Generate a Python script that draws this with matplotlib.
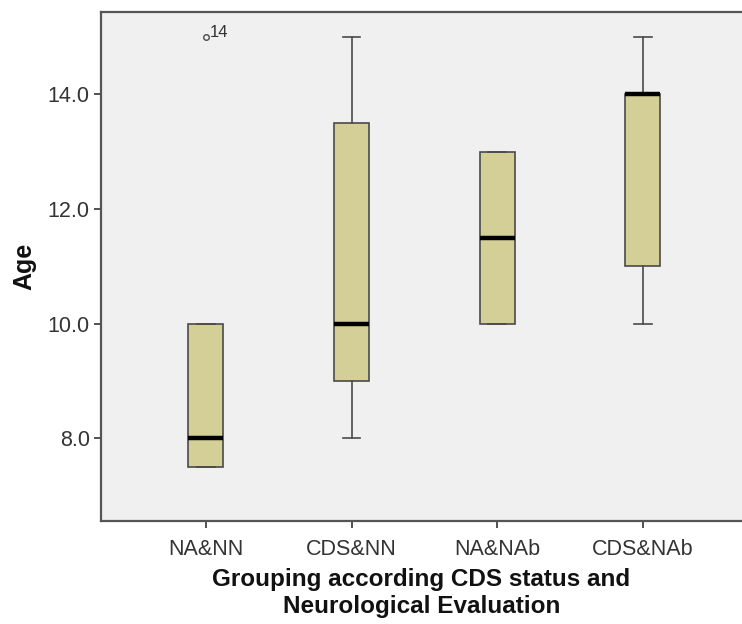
import matplotlib.pyplot as plt

plt.rcParams['font.family'] = ['Liberation Sans', 'DejaVu Sans']

# values
groups = ['NA&NN', 'CDS&NN', 'NA&NAb', 'CDS&NAb']
whislo = [7.5, 8.0, 10.0, 10.0]
q1 = [7.5, 9.0, 10.0, 11.0]
med = [8.0, 10.0, 11.5, 14.0]
q3 = [10.0, 13.5, 13.0, 14.0]
whishi = [10.0, 15.0, 13.0, 15.0]
fliers = [[15.0], [], [], []]
flier_ids = [['14'], [], [], []]

stats = []
for i in range(len(groups)):
    stats.append({'label': groups[i], 'whislo': whislo[i], 'q1': q1[i], 'med': med[i],
                  'q3': q3[i], 'whishi': whishi[i], 'fliers': fliers[i]})

fig = plt.figure(figsize=(7.42, 6.24), dpi=100)
ax = fig.add_axes([0.136, 0.1655, 0.864, 0.8157])
ax.set_facecolor('#F0F0F0')

edge = '#4a4a4a'
ax.bxp(stats, positions=range(len(groups)), widths=0.24, patch_artist=True,
       boxprops=dict(facecolor='#D3CF97', edgecolor=edge, linewidth=1.2),
       whiskerprops=dict(color=edge, linewidth=1.2),
       capprops=dict(color=edge, linewidth=1.2), capwidths=0.12,
       medianprops=dict(color='black', linewidth=3.2, solid_capstyle='butt'),
       flierprops=dict(marker='o', markersize=4, markerfacecolor='none',
                       markeredgecolor=edge, markeredgewidth=1.0))

for i, (vals, ids) in enumerate(zip(fliers, flier_ids)):
    for v, t in zip(vals, ids):
        ax.annotate(t, (i, v), xytext=(3, -2), textcoords='offset points',
                    fontsize=12, color='#333333', ha='left', va='bottom')

ax.set_xlim(-0.72, 3.68)
ax.set_ylim(6.56, 15.44)
ax.set_yticks([8, 10, 12, 14])
ax.set_yticklabels(['8.0', '10.0', '12.0', '14.0'])
ax.set_xticks(range(len(groups)))
ax.set_xticklabels(groups)

for s in ['left', 'bottom', 'top']:
    ax.spines[s].set_color('#555555')
    ax.spines[s].set_linewidth(1.6)
ax.spines['right'].set_visible(False)

ax.tick_params(axis='both', colors='#333333', labelsize=15.5, length=5, width=1.2)
ax.tick_params(axis='x', pad=8)
ax.tick_params(axis='y', pad=3)

ax.set_ylabel('Age', fontsize=18, fontweight='bold', color='#111111', labelpad=8)
ax.set_xlabel('Grouping according CDS status and\nNeurological Evaluation',
              fontsize=17.5, fontweight='bold', color='#111111', labelpad=6,
              linespacing=1.2)

fig.savefig('out.png', dpi=100)
